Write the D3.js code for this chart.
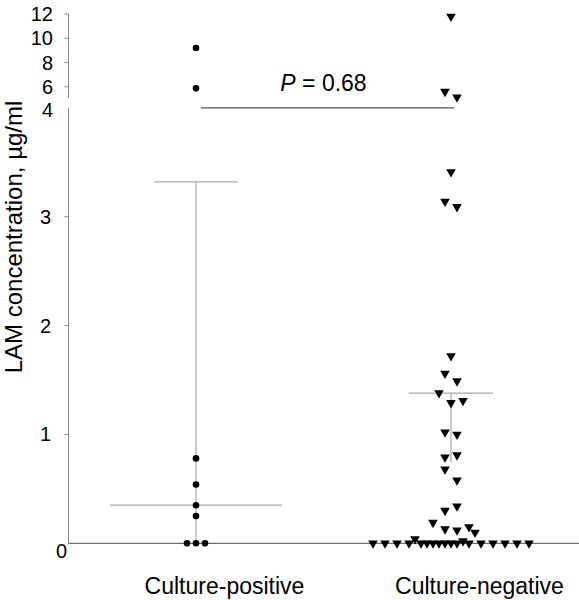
<!DOCTYPE html>
<html><head><meta charset="utf-8">
<script src="https://cdn.jsdelivr.net/npm/d3@7"></script>
<style>body{margin:0;background:#fff}svg{display:block}text{font-family:"Liberation Sans",Arial,sans-serif;fill:#000}</style>
</head><body><svg id="c" width="579" height="600"></svg>
<script>
const categories = ["Culture-positive", "Culture-negative"];
const positiveValues = [9.2, 5.87, 0.78, 0.54, 0.35, 0.25, 0, 0, 0];
const positiveSlots  = [0, 0, 0, 0, 0, 0, -1.5, 0, 1.5];
const negativeValues = [11.8, 5.6, 5.13, 3.41, 3.14, 3.09, 1.72, 1.56, 1.49, 1.38, 1.29, 1.31,
  1.02, 1.00, 0.79, 0.81, 0.68, 0.58, 0.34, 0.30, 0.19, 0.13, 0.12, 0.15, 0.10, 0.04, 0.02,
  0,0,0,0,0,0,0,0,0,0,0,0,0,0,0,0,0];
const negativeSlots  = [0, -1, 1, 0, -1, 1, 0, -1, 1, -2, 0, 2,
  -1, 1, -1, 1, -1, 1, 1, -1, -3, -1, 1, 3, 4, -6, 2,
  -13,-11,-9,-7,-5,-4,-3,-2,-1,0,1,3,5,7,9,11,13];
const centerLine = [0.35, null];
const capValue   = [3.32, 1.38];
const barBottom  = [0, 0.745];
const lowTicks  = [1, 2, 3];
const highTicks = [6, 8, 10, 12];
const pText = "0.68";

const svg = d3.select("#c");
const yLow = d3.scaleLinear().domain([0, 4]).range([543.3, 107.8]);
const yHigh = d3.scaleLinear().domain([4, 12]).range([111, 14]);
const yv = v => v <= 4 ? yLow(v) : yHigh(v);
const x = d3.scalePoint().domain(categories).range([196, 451]);
const jit = d3.scaleLinear().domain([-1, 1]).range([-6, 6]);
const axisX = 68.5;

// axes
const axisG = svg.append("g").attr("stroke", "#8a8a8a").attr("stroke-width", 1);
axisG.append("line").attr("x1", axisX).attr("x2", axisX).attr("y1", yHigh(12)).attr("y2", 98);
axisG.append("line").attr("x1", axisX).attr("x2", axisX).attr("y1", yLow(4)).attr("y2", yLow(0));
svg.append("line").attr("x1", axisX).attr("x2", 579).attr("y1", yLow(0)).attr("y2", yLow(0))
  .attr("stroke", "#6e6e6e").attr("stroke-width", 1.2);
lowTicks.forEach(t => {
  axisG.append("line").attr("x1", axisX - 4).attr("x2", axisX).attr("y1", yLow(t)).attr("y2", yLow(t));
  svg.append("text").attr("x", 51).attr("y", yLow(t)).attr("dy", "0.35em").attr("text-anchor", "end")
    .attr("font-size", 20).text(t);
});
highTicks.forEach(t => {
  axisG.append("line").attr("x1", axisX - 4).attr("x2", axisX).attr("y1", yHigh(t)).attr("y2", yHigh(t));
  svg.append("text").attr("x", 53).attr("y", yHigh(t)).attr("dy", "0.35em").attr("text-anchor", "end")
    .attr("font-size", 20).text(t);
});
svg.append("text").attr("x", 53).attr("y", yLow(4) + 2).attr("dy", "0.35em").attr("text-anchor", "end")
  .attr("font-size", 20).text(4);
svg.append("text").attr("x", 67).attr("y", yLow(0) + 8).attr("dy", "0.35em").attr("text-anchor", "end")
  .attr("font-size", 20).text(0);

// axis title
svg.append("text").attr("transform", `translate(22,237) rotate(-90)`).attr("text-anchor", "middle")
  .attr("font-size", 24).text("LAM concentration, µg/ml");

// category labels
categories.forEach(c => {
  svg.append("text").attr("x", x(c) + 28.5).attr("y", 594).attr("text-anchor", "middle")
    .attr("font-size", 23).text(c);
});

// summary lines
const sumG = svg.append("g").attr("stroke", "#a8a8a8").attr("stroke-width", 1.2);
categories.forEach((c, i) => {
  const cx = x(c);
  sumG.append("line").attr("x1", cx).attr("x2", cx).attr("y1", yv(capValue[i])).attr("y2", yv(barBottom[i]));
  sumG.append("line").attr("x1", cx - 42).attr("x2", cx + 42).attr("y1", yv(capValue[i])).attr("y2", yv(capValue[i]));
  if (centerLine[i] != null)
    sumG.append("line").attr("x1", cx - 86).attr("x2", cx + 86).attr("y1", yv(centerLine[i])).attr("y2", yv(centerLine[i]));
});

// points
svg.append("g").selectAll("circle").data(positiveValues).join("circle")
  .attr("cx", (d, i) => x(categories[0]) + jit(positiveSlots[i]))
  .attr("cy", d => yv(d)).attr("r", 3.3).attr("fill", "#000");
const tri = d3.symbol().type(d3.symbolTriangle).size(40);
svg.append("g").selectAll("path").data(negativeValues).join("path")
  .attr("d", tri)
  .attr("transform", (d, i) => `translate(${x(categories[1]) + jit(negativeSlots[i])},${yv(d)}) rotate(180)`)
  .attr("fill", "#000");

// P-value bracket
svg.append("line").attr("x1", x(categories[0]) + 5).attr("x2", x(categories[1]) + 3)
  .attr("y1", yLow(4)).attr("y2", yLow(4)).attr("stroke", "#555").attr("stroke-width", 1.2);
const pt = svg.append("text").attr("x", 323.5).attr("y", 91)
  .attr("text-anchor", "middle").attr("font-size", 23);
pt.append("tspan").attr("font-style", "italic").text("P");
pt.append("tspan").text(" = " + pText);
</script></body></html>
